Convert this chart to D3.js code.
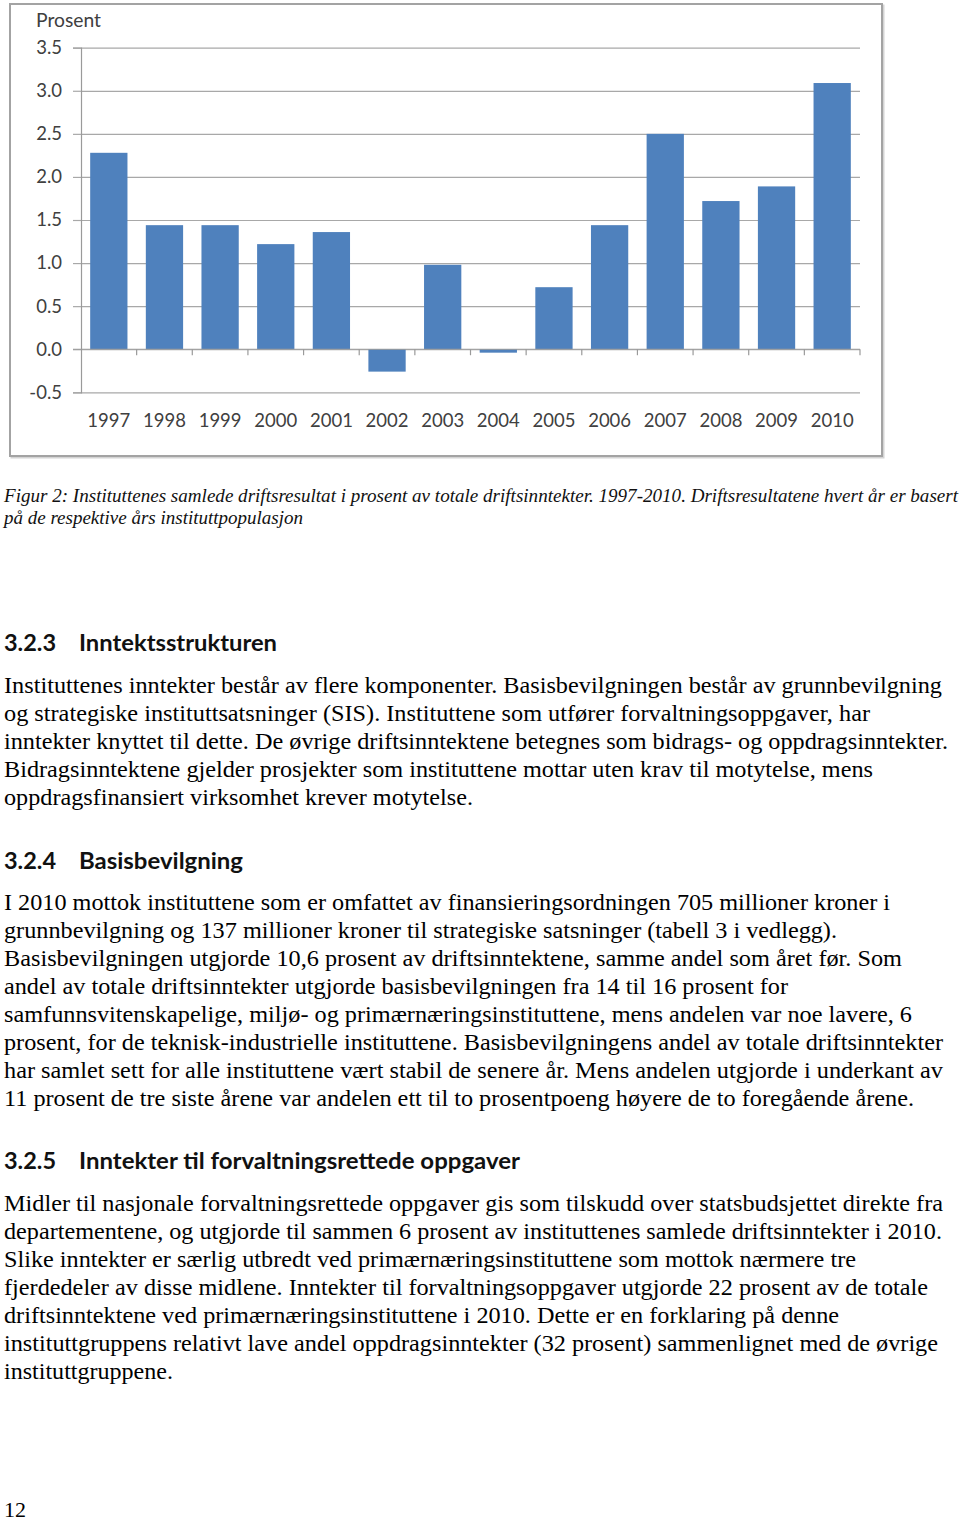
<!DOCTYPE html>
<html>
<head>
<meta charset="utf-8">
<script src="https://cdnjs.cloudflare.com/ajax/libs/d3/7.8.5/d3.min.js"></script>
<style>
  html, body { margin: 0; padding: 0; background: #fff; }
  svg { display: block; }
</style>
</head>
<body>
<script>
// ---------- DATA ----------
const years = ["1997","1998","1999","2000","2001","2002","2003","2004","2005","2006","2007","2008","2009","2010"];
const values = [2.28, 1.44, 1.44, 1.22, 1.36, -0.26, 0.98, -0.04, 0.72, 1.44, 2.50, 1.72, 1.89, 3.09];
const yTicks = [-0.5, 0, 0.5, 1.0, 1.5, 2.0, 2.5, 3.0, 3.5];
const yTickLabels = ["-0.5", "0.0", "0.5", "1.0", "1.5", "2.0", "2.5", "3.0", "3.5"];
const yAxisTitle = "Prosent";

const captionLines = [
  "Figur 2: Instituttenes samlede driftsresultat i prosent av totale driftsinntekter. 1997-2010. Driftsresultatene hvert år er basert",
  "på de respektive års instituttpopulasjon"
];
const headingNumbers = ["3.2.3", "3.2.4", "3.2.5"];
const headingTitles = ["Inntektsstrukturen", "Basisbevilgning", "Inntekter til forvaltningsrettede oppgaver"];
const para1 = [
  "Instituttenes inntekter består av flere komponenter. Basisbevilgningen består av grunnbevilgning",
  "og strategiske instituttsatsninger (SIS). Instituttene som utfører forvaltningsoppgaver, har",
  "inntekter knyttet til dette. De øvrige driftsinntektene betegnes som bidrags- og oppdragsinntekter.",
  "Bidragsinntektene gjelder prosjekter som instituttene mottar uten krav til motytelse, mens",
  "oppdragsfinansiert virksomhet krever motytelse."
];
const para2 = [
  "I 2010 mottok instituttene som er omfattet av finansieringsordningen 705 millioner kroner i",
  "grunnbevilgning og 137 millioner kroner til strategiske satsninger (tabell 3 i vedlegg).",
  "Basisbevilgningen utgjorde 10,6 prosent av driftsinntektene, samme andel som året før. Som",
  "andel av totale driftsinntekter utgjorde basisbevilgningen fra 14 til 16 prosent for",
  "samfunnsvitenskapelige, miljø- og primærnæringsinstituttene, mens andelen var noe lavere, 6",
  "prosent, for de teknisk-industrielle instituttene. Basisbevilgningens andel av totale driftsinntekter",
  "har samlet sett for alle instituttene vært stabil de senere år. Mens andelen utgjorde i underkant av",
  "11 prosent de tre siste årene var andelen ett til to prosentpoeng høyere de to foregående årene."
];
const para3 = [
  "Midler til nasjonale forvaltningsrettede oppgaver gis som tilskudd over statsbudsjettet direkte fra",
  "departementene, og utgjorde til sammen 6 prosent av instituttenes samlede driftsinntekter i 2010.",
  "Slike inntekter er særlig utbredt ved primærnæringsinstituttene som mottok nærmere tre",
  "fjerdedeler av disse midlene. Inntekter til forvaltningsoppgaver utgjorde 22 prosent av de totale",
  "driftsinntektene ved primærnæringsinstituttene i 2010. Dette er en forklaring på denne",
  "instituttgruppens relativt lave andel oppdragsinntekter (32 prosent) sammenlignet med de øvrige",
  "instituttgruppene."
];
const pageNumber = "12";

// ---------- LAYOUT (positions / sizes / styles) ----------
const W = 960, H = 1523;
const plot = { left: 81, right: 860, top: 47.7, bottom: 392.3 };
const frame = { x: 10, y: 4, w: 872, h: 452 };
const barColor = "#4f81bd";
const chartFont = "Lato, 'Open Sans', sans-serif";
const serif = "'Liberation Serif', 'Times New Roman', serif";
const headFont = "Lato, 'Noto Sans', sans-serif";

const capLayout = { x: 4, y0: 502, dy: 22, size: 18, widths: [954, 299] };
const headLayout = [
  { y: 651, numW: 52, titleX: 79, titleW: 198 },
  { y: 869, numW: 52, titleX: 79, titleW: 164 },
  { y: 1169, numW: 52, titleX: 79, titleW: 441 }
];
const bodySize = 23.5, lineH = 28, textX = 4;
const p1Layout = { y0: 693, widths: [938, 866, 944, 869, 469] };
const p2Layout = { y0: 910, widths: [886, 833, 898, 784, 908, 939, 939, 910] };
const p3Layout = { y0: 1211, widths: [939, 938, 852, 924, 835, 934, 169] };

// ---------- DRAW ----------
const svg = d3.select("body").append("svg")
  .attr("width", W).attr("height", H)
  .attr("viewBox", `0 0 ${W} ${H}`);
svg.append("rect").attr("width", W).attr("height", H).attr("fill", "#fff");

// chart frame
svg.append("rect")
  .attr("x", frame.x + 1.5).attr("y", frame.y + 1.5)
  .attr("width", frame.w).attr("height", frame.h)
  .attr("fill", "none").attr("stroke", "#d4d4d4").attr("stroke-width", 2);
svg.append("rect")
  .attr("x", frame.x).attr("y", frame.y)
  .attr("width", frame.w).attr("height", frame.h)
  .attr("fill", "#fff").attr("stroke", "#a3a3a3").attr("stroke-width", 2);

const x = d3.scaleBand().domain(years).range([plot.left, plot.right])
  .paddingInner(0.33).paddingOuter(0.165);
const y = d3.scaleLinear().domain([d3.min(yTicks), d3.max(yTicks)]).range([plot.bottom, plot.top]);

// gridlines
const grid = svg.append("g").attr("transform", `translate(${plot.left},0)`)
  .call(d3.axisLeft(y).tickValues(yTicks).tickSize(-(plot.right - plot.left)).tickFormat(""));
grid.select(".domain").remove();
grid.selectAll("line").attr("stroke", "#a8a8a8").attr("stroke-width", 1.2);

// y axis with labels
const yAxis = svg.append("g").attr("transform", `translate(${plot.left},0)`)
  .call(d3.axisLeft(y).tickValues(yTicks).tickSize(8).tickPadding(11)
    .tickFormat((d, i) => yTickLabels[i]));
yAxis.select(".domain").attr("stroke", "#9a9a9a").attr("stroke-width", 1.2);
yAxis.selectAll("line").attr("stroke", "#a8a8a8").attr("stroke-width", 1.2);
yAxis.selectAll("text").attr("font-family", chartFont).attr("font-size", 18.5).attr("fill", "#404040");

// axis title
svg.append("text").attr("x", 36).attr("y", 27)
  .attr("font-family", chartFont).attr("font-size", 18.5).attr("fill", "#404040")
  .attr("textLength", 65).attr("lengthAdjust", "spacingAndGlyphs")
  .text(yAxisTitle);

// bars
svg.append("g").selectAll("rect").data(values).join("rect")
  .attr("x", (d, i) => x(years[i]))
  .attr("width", x.bandwidth())
  .attr("y", d => y(Math.max(0, d)))
  .attr("height", d => Math.abs(y(d) - y(0)))
  .attr("fill", barColor);

// zero line with category boundary ticks
const boundaries = years.map(yr => x(yr) - (x.step() - x.bandwidth()) / 2).slice(1).concat([plot.right]);
const zero = svg.append("g");
zero.append("line").attr("x1", plot.left - 8).attr("x2", plot.right)
  .attr("y1", y(0)).attr("y2", y(0)).attr("stroke", "#9a9a9a").attr("stroke-width", 1.2);
zero.selectAll("line.b").data(boundaries).join("line").attr("class", "b")
  .attr("x1", d => d).attr("x2", d => d)
  .attr("y1", y(0)).attr("y2", y(0) + 6)
  .attr("stroke", "#9a9a9a").attr("stroke-width", 1.2);

// x labels
const xAxis = svg.append("g").attr("transform", `translate(0,${plot.bottom})`)
  .call(d3.axisBottom(x).tickSize(0).tickPadding(22));
xAxis.select(".domain").remove();
xAxis.selectAll("text").attr("font-family", chartFont).attr("font-size", 18.5).attr("fill", "#404040");

// ---------- TEXT ----------
function fitText(sel, w) {
  if (w) sel.attr("textLength", w).attr("lengthAdjust", "spacingAndGlyphs");
  return sel;
}

// caption
captionLines.forEach((t, i) => {
  fitText(svg.append("text")
    .attr("x", capLayout.x).attr("y", capLayout.y0 + i * capLayout.dy)
    .attr("font-family", serif).attr("font-style", "italic")
    .attr("font-size", capLayout.size).attr("fill", "#111")
    .text(t), capLayout.widths[i]);
});

// headings
headingNumbers.forEach((n, i) => {
  const L = headLayout[i];
  fitText(svg.append("text").attr("x", textX).attr("y", L.y)
    .attr("font-family", headFont).attr("font-weight", 700).attr("font-size", 22).attr("fill", "#111")
    .text(n), L.numW);
  fitText(svg.append("text").attr("x", L.titleX).attr("y", L.y)
    .attr("font-family", headFont).attr("font-weight", 700).attr("font-size", 22).attr("fill", "#111")
    .text(headingTitles[i]), L.titleW);
});

function drawPara(lines, L) {
  lines.forEach((t, i) => {
    fitText(svg.append("text").attr("x", textX).attr("y", L.y0 + i * lineH)
      .attr("font-family", serif).attr("font-size", bodySize).attr("fill", "#000")
      .text(t), L.widths[i]);
  });
}
drawPara(para1, p1Layout);
drawPara(para2, p2Layout);
drawPara(para3, p3Layout);

svg.append("text").attr("x", textX).attr("y", 1517)
  .attr("font-family", serif).attr("font-size", 22).attr("fill", "#000")
  .text(pageNumber);
</script>
</body>
</html>
